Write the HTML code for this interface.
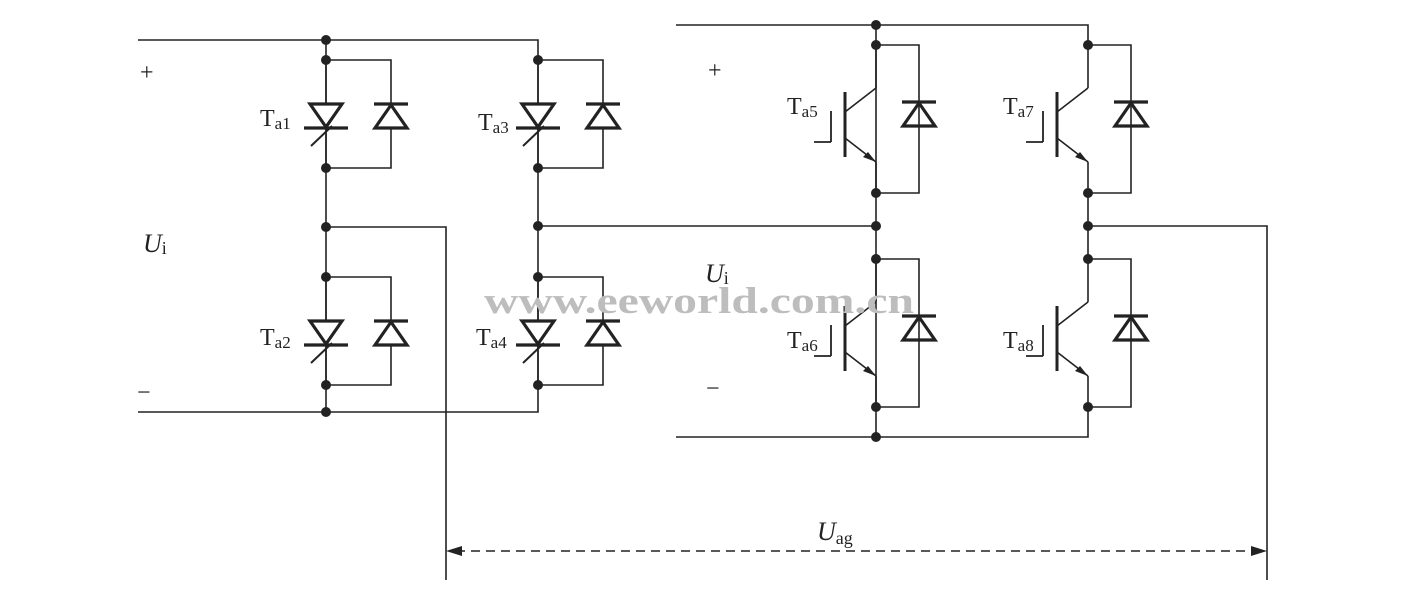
<!DOCTYPE html>
<html><head><meta charset="utf-8"><style>
html,body{margin:0;padding:0;background:#fff;}
svg{display:block;}
text{font-family:"Liberation Serif",serif;fill:#222;}
</style></head><body>
<svg width="1401" height="593" viewBox="0 0 1401 593" xmlns="http://www.w3.org/2000/svg">
<defs>
<g id="thy">
  <path d="M-16,-13 L16,-13 L0,10 Z" fill="none" stroke="#222" stroke-width="3.2" stroke-linejoin="miter"/>
  <line x1="-22" y1="11" x2="22" y2="11" stroke="#222" stroke-width="3.2"/>
  <line x1="6" y1="9" x2="-15" y2="29" stroke="#222" stroke-width="2"/>
</g>
<g id="dio">
  <line x1="-17" y1="-13" x2="17" y2="-13" stroke="#222" stroke-width="3.2"/>
  <path d="M0,-12 L16,11 L-16,11 Z" fill="none" stroke="#222" stroke-width="3.2"/>
</g>
<g id="igbt">
  <line x1="0" y1="0" x2="0" y2="43" stroke="#222" stroke-width="1.6"/>
  <line x1="0" y1="43" x2="-31" y2="67" stroke="#222" stroke-width="1.6"/>
  <line x1="-31" y1="47" x2="-31" y2="112" stroke="#222" stroke-width="3"/>
  <line x1="-31" y1="93" x2="0" y2="117" stroke="#222" stroke-width="1.6"/>
  <path d="M0,117 L-13,112 L-8,107 Z" fill="#222"/>
  <line x1="0" y1="117" x2="0" y2="148" stroke="#222" stroke-width="1.6"/>
  <line x1="-45" y1="66" x2="-45" y2="97" stroke="#222" stroke-width="1.8"/>
  <line x1="-45" y1="97" x2="-62" y2="97" stroke="#222" stroke-width="1.8"/>
  <polyline points="0,0 43,0 43,148 0,148" fill="none" stroke="#222" stroke-width="1.6"/>
  <use href="#dio" x="43" y="70"/>
  <circle cx="0" cy="0" r="5" fill="#222"/>
  <circle cx="0" cy="148" r="5" fill="#222"/>
</g>
<g id="tcell">
  <line x1="0" y1="0" x2="0" y2="108" stroke="#222" stroke-width="1.6"/>
  <polyline points="0,0 65,0 65,108 0,108" fill="none" stroke="#222" stroke-width="1.6"/>
  <rect x="-22" y="44" width="44" height="24" fill="#fff"/>
  <rect x="44" y="44" width="42" height="24" fill="#fff"/>
  <use href="#thy" x="0" y="57"/>
  <use href="#dio" x="65" y="57"/>
  <circle cx="0" cy="0" r="5" fill="#222"/>
  <circle cx="0" cy="108" r="5" fill="#222"/>
</g>
</defs>

<g stroke="#222" stroke-width="1.6" fill="none">
  <polyline points="138,40 538,40 538,60"/>
  <polyline points="138,412 538,412 538,385"/>
  <line x1="326" y1="40" x2="326" y2="412"/>
  <line x1="538" y1="60" x2="538" y2="385"/>
  <polyline points="326,227 446,227 446,580"/>
  <line x1="538" y1="226" x2="876" y2="226"/>
  <polyline points="676,25 1088,25 1088,45"/>
  <polyline points="676,437 1088,437 1088,408"/>
  <line x1="876" y1="25" x2="876" y2="437"/>
  <line x1="1088" y1="193" x2="1088" y2="258"/>
  <polyline points="1088,226 1267,226 1267,580"/>
  <line x1="456" y1="551" x2="1257" y2="551" stroke-dasharray="9,6"/>
</g>
<path d="M446,551 L462,546 L462,556 Z" fill="#222"/>
<path d="M1267,551 L1251,546 L1251,556 Z" fill="#222"/>

<use href="#tcell" x="326" y="60"/>
<use href="#tcell" x="326" y="277"/>
<use href="#tcell" x="538" y="60"/>
<use href="#tcell" x="538" y="277"/>
<use href="#igbt" x="876" y="45"/>
<use href="#igbt" x="876" y="259"/>
<use href="#igbt" x="1088" y="45"/>
<use href="#igbt" x="1088" y="259"/>

<g fill="#222">
<circle cx="326" cy="40" r="5"/>
<circle cx="326" cy="227" r="5"/>
<circle cx="326" cy="412" r="5"/>
<circle cx="538" cy="226" r="5"/>
<circle cx="876" cy="25" r="5"/>
<circle cx="876" cy="226" r="5"/>
<circle cx="876" cy="437" r="5"/>
<circle cx="1088" cy="226" r="5"/>
</g>

<g font-size="24">
<text x="140" y="80">+</text>
<text x="137" y="400">−</text>
<text x="708" y="78">+</text>
<text x="706" y="396">−</text>
<text x="143" y="252" font-style="italic" font-size="26">U<tspan font-style="normal" font-size="18" dy="2">i</tspan></text>
<text x="705" y="282" font-style="italic" font-size="26">U<tspan font-style="normal" font-size="18" dy="2">i</tspan></text>
<text x="817" y="540" font-style="italic" font-size="26">U<tspan font-style="normal" font-size="18" dy="4">ag</tspan></text>
<text x="260" y="126">T<tspan font-size="17" dy="3">a1</tspan></text>
<text x="260" y="345">T<tspan font-size="17" dy="3">a2</tspan></text>
<text x="478" y="130">T<tspan font-size="17" dy="3">a3</tspan></text>
<text x="476" y="345">T<tspan font-size="17" dy="3">a4</tspan></text>
<text x="787" y="114">T<tspan font-size="17" dy="3">a5</tspan></text>
<text x="787" y="348">T<tspan font-size="17" dy="3">a6</tspan></text>
<text x="1003" y="114">T<tspan font-size="17" dy="3">a7</tspan></text>
<text x="1003" y="348">T<tspan font-size="17" dy="3">a8</tspan></text>
</g>
<text x="484" y="313" font-size="37" font-weight="bold" style="fill:#bdbdbd" textLength="430" lengthAdjust="spacingAndGlyphs">www.eeworld.com.cn</text>
</svg>
</body></html>
